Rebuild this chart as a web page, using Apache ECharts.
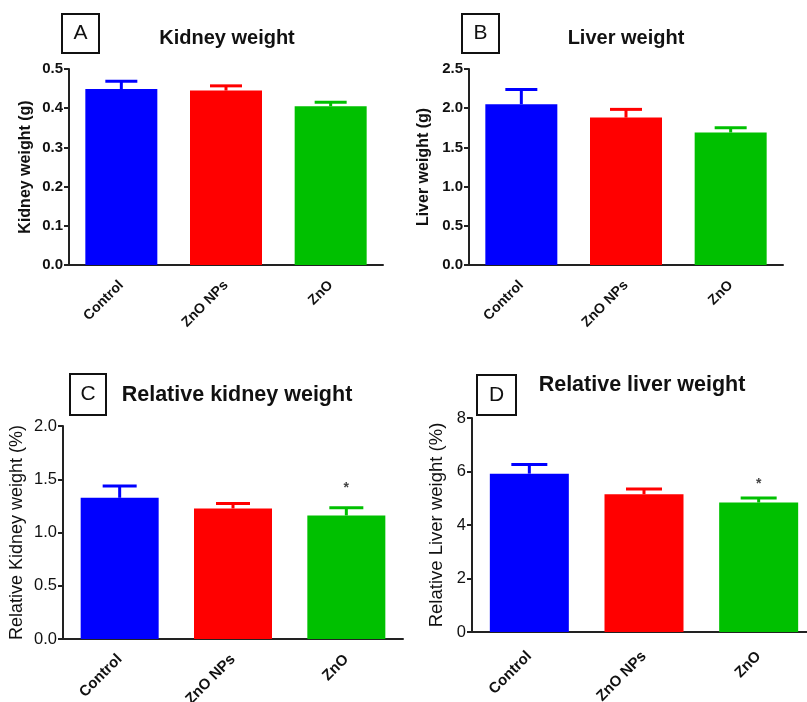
<!DOCTYPE html>
<html>
<head>
<meta charset="utf-8">
<script src="https://cdn.jsdelivr.net/npm/echarts@6/dist/echarts.min.js"></script>
<style>html,body{margin:0;padding:0;background:#fff;}#c{width:807px;height:702px;}</style>
</head>
<body>
<div id="c"></div>
<script>
// ---- data ----
const categories = ['Control', 'ZnO NPs', 'ZnO'];
const barColors = ['#0000ff', '#ff0000', '#00c000'];

const kidneyWeight = [0.449, 0.445, 0.405];
const kidneyWeightErr = [0.020, 0.012, 0.010];
const kidneySig = ['', '', ''];

const liverWeight = [2.05, 1.88, 1.69];
const liverWeightErr = [0.19, 0.105, 0.06];
const liverSig = ['', '', ''];

const relKidneyWeight = [1.326, 1.226, 1.160];
const relKidneyWeightErr = [0.11, 0.047, 0.072];
const relKidneySig = ['', '', '*'];

const relLiverWeight = [5.92, 5.15, 4.84];
const relLiverWeightErr = [0.34, 0.20, 0.17];
const relLiverSig = ['', '', '*'];

const panelLetters = ['A', 'B', 'C', 'D'];
const panelTitles = ['Kidney weight', 'Liver weight', 'Relative kidney weight', 'Relative liver weight'];
const yAxisNames = ['Kidney weight (g)', 'Liver weight (g)', 'Relative Kidney weight (%)', 'Relative Liver weight (%)'];
const yMax = [0.5, 2.5, 2.0, 8];
const yStep = [0.1, 0.5, 0.5, 2];
const yDecimals = [1, 1, 1, 0];

// ---- layout / style ----
const FONT = "'Liberation Sans', Arial, sans-serif";
const layout = [
  {grid: {left: 69, top: 69, width: 314, height: 196}, barWidth: 72, capW: 32, nameGap: 35, nameSize: 16, nameBold: 'bold', labelSize: 15, labelBold: 'bold', xSize: 14, xMargin: 18,
   title: {x: 227, y: 38, size: 20}, box: {x: 62, y: 14, w: 37, h: 39}, sigOff: 16},
  {grid: {left: 469, top: 69, width: 314, height: 196}, barWidth: 72, capW: 32, nameGap: 37, nameSize: 16, nameBold: 'bold', labelSize: 15, labelBold: 'bold', xSize: 14, xMargin: 18,
   title: {x: 626, y: 38, size: 20}, box: {x: 462, y: 14, w: 37, h: 39}, sigOff: 16},
  {grid: {left: 63, top: 426, width: 340, height: 213}, barWidth: 78, capW: 34, nameGap: 37, nameSize: 18, nameBold: 'normal', labelSize: 16.5, labelBold: 'normal', xSize: 15, xMargin: 18,
   title: {x: 237, y: 395, size: 21.5}, box: {x: 70, y: 374, w: 36, h: 41}, sigOff: 20},
  {grid: {left: 472, top: 418, width: 344, height: 214}, barWidth: 79, capW: 36, nameGap: 26, nameSize: 18.5, nameBold: 'normal', labelSize: 16.5, labelBold: 'normal', xSize: 15, xMargin: 22,
   title: {x: 642, y: 385, size: 21.5}, box: {x: 477, y: 375, w: 39, h: 40}, sigOff: 14}
];

const values = [kidneyWeight, liverWeight, relKidneyWeight, relLiverWeight];
const errors = [kidneyWeightErr, liverWeightErr, relKidneyWeightErr, relLiverWeightErr];
const sigs = [kidneySig, liverSig, relKidneySig, relLiverSig];

const grids = [], xAxes = [], yAxes = [], series = [], graphics = [];

for (let p = 0; p < 4; p++) {
  const L = layout[p];
  grids.push(Object.assign({containLabel: false, outerBoundsMode: 'none'}, L.grid));
  xAxes.push({
    type: 'category', gridIndex: p, data: categories,
    axisLine: {lineStyle: {color: '#222', width: 2}},
    axisTick: {alignWithLabel: true, length: 6, lineStyle: {color: '#222', width: 2}},
    axisLabel: {rotate: 45, fontFamily: FONT, fontWeight: 'bold', fontSize: L.xSize, color: '#111', margin: L.xMargin}
  });
  const dec = yDecimals[p];
  yAxes.push({
    type: 'value', gridIndex: p, min: 0, max: yMax[p], interval: yStep[p],
    name: yAxisNames[p], nameLocation: 'middle', nameGap: L.nameGap,
    nameTextStyle: {fontFamily: FONT, fontSize: L.nameSize, fontWeight: L.nameBold, color: '#111'},
    splitLine: {show: false},
    axisLine: {show: true, lineStyle: {color: '#222', width: 2}},
    axisTick: {show: true, length: 5, lineStyle: {color: '#222', width: 2}},
    axisLabel: {fontFamily: FONT, fontSize: L.labelSize, fontWeight: L.labelBold, color: '#111', margin: 6,
      formatter: v => v.toFixed(dec)}
  });
  series.push({
    type: 'bar', xAxisIndex: p, yAxisIndex: p, barWidth: L.barWidth,
    data: values[p].map((v, i) => ({value: v, itemStyle: {color: barColors[i]}})),
    z: 2
  });
  const sig = sigs[p];
  series.push({
    type: 'custom', xAxisIndex: p, yAxisIndex: p, z: 3,
    data: values[p].map((v, i) => [i, v, errors[p][i]]),
    renderItem: function (params, api) {
      const i = api.value(0), v = api.value(1), e = api.value(2);
      const base = api.coord([i, v]);
      const top = api.coord([i, v + e]);
      const col = barColors[params.dataIndex];
      const children = [
        {type: 'line', shape: {x1: base[0], y1: base[1], x2: top[0], y2: top[1]}, style: {stroke: col, lineWidth: 3}},
        {type: 'line', shape: {x1: top[0] - L.capW / 2, y1: top[1], x2: top[0] + L.capW / 2, y2: top[1]}, style: {stroke: col, lineWidth: 3}}
      ];
      const s = sig[params.dataIndex];
      if (s) {
        children.push({type: 'text', style: {text: s, x: top[0], y: top[1] - L.sigOff, align: 'center', verticalAlign: 'middle',
          font: 'bold 14px ' + FONT, fill: '#444'}});
      }
      return {type: 'group', children: children};
    }
  });
  graphics.push({type: 'rect', shape: {x: L.box.x, y: L.box.y, width: L.box.w, height: L.box.h},
    style: {fill: '#fff', stroke: '#111', lineWidth: 2}});
  graphics.push({type: 'text', x: L.box.x + L.box.w / 2, y: L.box.y + L.box.h / 2,
    style: {text: panelLetters[p], font: '21px ' + FONT, fill: '#111', align: 'center', verticalAlign: 'middle'}});
  graphics.push({type: 'text', x: L.title.x, y: L.title.y,
    style: {text: panelTitles[p], font: 'bold ' + L.title.size + 'px ' + FONT, fill: '#111', align: 'center', verticalAlign: 'middle'}});
}

const chart = echarts.init(document.getElementById('c'), null, {renderer: 'canvas'});
chart.setOption({
  animation: false,
  backgroundColor: '#fff',
  grid: grids, xAxis: xAxes, yAxis: yAxes, series: series, graphic: graphics
});
</script>
</body>
</html>
